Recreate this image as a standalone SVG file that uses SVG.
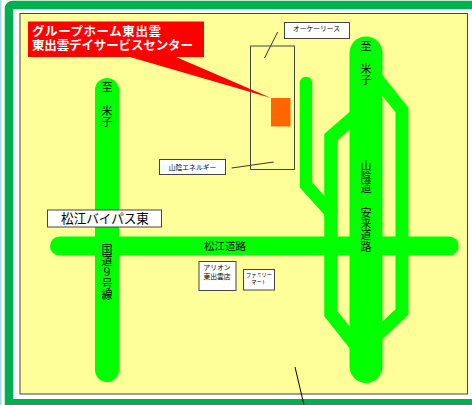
<svg xmlns="http://www.w3.org/2000/svg" width="472" height="405" viewBox="0 0 472 405">
<style>
text{font-family:"Noto Sans CJK JP","Noto Sans",sans-serif;fill:#000;text-anchor:middle}
.v{writing-mode:vertical-rl;font-size:11px;text-anchor:start;letter-spacing:.4px}
.road{fill:none;stroke:#00ff00;stroke-linejoin:miter}
.round{stroke-linecap:round}
.box{fill:#fff;stroke:#444;stroke-width:1}
.ln{stroke:#333;stroke-width:1;fill:none}
.s{font-size:6.800px}
.t{font-size:5.200px}
.c{text-anchor:start;font-weight:700;font-size:12.500px;fill:#fff}
</style>
<rect width="472" height="405" fill="#fff"/>
<rect x="0" y="0" width="1.500" height="405" fill="#a8d8e8"/>
<path d="M472 5H13Q9 5 9 9V403.250H472" fill="none" stroke="#00b050" stroke-width="8.500"/>
<rect x="20" y="13.500" width="447.500" height="380.500" fill="#ffff99" stroke="#444" stroke-width="1"/>
<g id="connectors">
<path class="road round" stroke-width="24" d="M107 90V370"/>
<path class="road round" stroke-width="19" d="M59.500 246H449.200"/>
<path class="road round" stroke-width="33" d="M366 53V366.500"/>
<path class="road" stroke-width="13" d="M370 70L402 110V312L368 344"/>
<path class="road" stroke-width="13.500" d="M362 110L331 137V314L366 358"/>
<circle cx="306" cy="83" r="6.250" fill="#00ff00"/>
<path class="road" stroke-width="12.500" d="M306 83V185L334 216"/>
<path class="ln" d="M277.700 32L264.500 58"/>
<path class="ln" d="M273.700 162L231.700 168"/>
<path d="M295 367L304 405" fill="none" stroke="#000" stroke-width="1"/>
</g>
<g id="building">
<rect x="250.500" y="46" width="44" height="123.500" fill="none" stroke="#444" stroke-width="1"/>
<rect x="271" y="98" width="19.500" height="28.500" fill="#ff6600"/>
</g>
<g id="callout">
<path d="M130 57H176L271 98Z" fill="#ff0000"/>
<rect x="28" y="21.500" width="176" height="35.500" fill="#ff0000"/>
<text class="c" x="32" y="35.500" textLength="129">グループホーム東出雲</text>
<text class="c" x="32" y="49.500" textLength="161">東出雲デイサービスセンター</text>
</g>
<g id="node-oke">
<rect class="box" x="284.500" y="22.500" width="65" height="16"/>
<text class="s" x="316.500" y="31">オーケーリース</text>
</g>
<g id="node-sanin">
<rect class="box" x="159.500" y="159.500" width="66" height="15"/>
<text class="s" x="192.500" y="169.500">山陰エネルギー</text>
</g>
<g id="node-bypass">
<rect class="box" x="47.500" y="210" width="114" height="17"/>
<text x="105" y="223" style="font-size:12.600px">松江バイパス東</text>
</g>
<g id="node-aeon">
<rect class="box" x="199" y="261.500" width="37" height="29"/>
<text class="s" x="217" y="270">アリオン</text>
<text class="s" x="217" y="278.800">東出雲店</text>
</g>
<g id="node-family">
<rect class="box" x="243.500" y="269.500" width="31" height="20.500"/>
<text class="t" x="259" y="276.500">ファミリー</text>
<text class="t" x="259" y="283.500">マート</text>
</g>
<g id="labels">
<text class="v" x="366" y="40">至</text>
<text class="v" x="366" y="63">米子</text>
<text class="v" x="366" y="160">山陰道</text>
<text class="v" x="366" y="207">安来道路</text>
<text class="v" x="107" y="81">至</text>
<text class="v" x="107" y="105">米子</text>
<text class="v" x="107" y="244">国道９号線</text>
<text x="225" y="250" style="font-size:10.500px">松江道路</text>
</g>
</svg>
